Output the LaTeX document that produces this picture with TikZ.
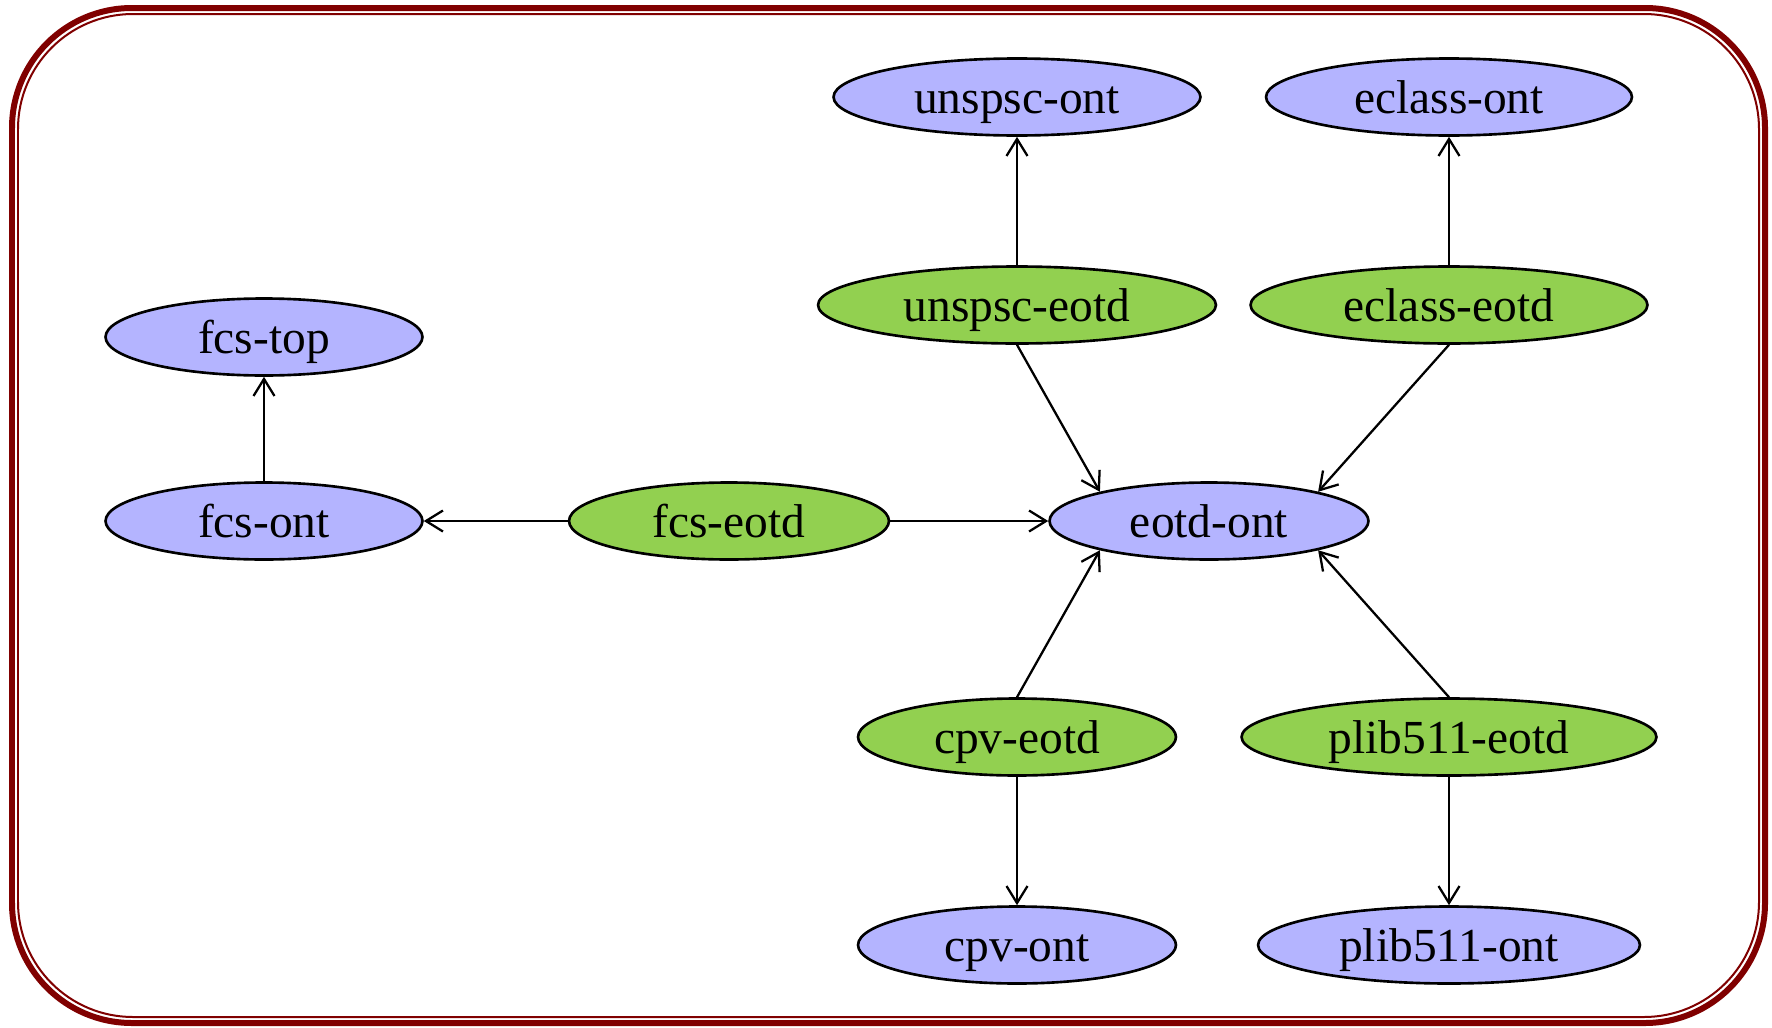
\documentclass[tikz,border=0pt]{standalone}
\usepackage{fontspec}
\setmainfont{Liberation Serif}
\usetikzlibrary{arrows.meta,shapes.geometric}
\definecolor{ontblue}{RGB}{180,180,255}
\definecolor{eotdgreen}{RGB}{146,208,80}
\definecolor{framered}{RGB}{128,0,0}

\begin{document}
\begin{tikzpicture}[x=0.02cm,y=-0.02cm,
		ont/.style={ellipse,draw,line width=1.5pt,fill=ontblue,inner sep=0pt,
			minimum height=1.54cm,text height=0.7cm,text depth=0.04cm},
		eotd/.style={ont,fill=eotdgreen},
		link/.style={line width=1.3pt,-{Straight Barb[length=0.34cm,width=0.42cm]}}]
	\fontsize{27}{32}\selectfont
	\useasboundingbox (0,0) rectangle (1772,1028);
	% frame
	\draw[framered,line width=0.12cm,rounded corners=2.4cm] (12,8) rectangle (1765,1023);
	\draw[framered,line width=0.04cm,rounded corners=2.3cm] (18,14) rectangle (1759,1017);

	\node[ont,minimum width=7.34cm] (unspsc-ont) at (1017,97) {unspsc-ont};
	\node[ont,minimum width=7.32cm] (eclass-ont) at (1449,97) {eclass-ont};
	\node[eotd,minimum width=7.96cm] (unspsc-eotd) at (1017,305) {unspsc-eotd};
	\node[eotd,minimum width=7.94cm] (eclass-eotd) at (1449,305) {eclass-eotd};
	\node[ont,minimum width=6.34cm] (fcs-top) at (264,337) {fcs-top};
	\node[ont,minimum width=6.34cm] (fcs-ont) at (264,521) {fcs-ont};
	\node[eotd,minimum width=6.40cm] (fcs-eotd) at (729,521) {fcs-eotd};
	\node[ont,minimum width=6.38cm] (eotd-ont) at (1209,521) {eotd-ont};
	\node[eotd,minimum width=6.36cm] (cpv-eotd) at (1017,737) {cpv-eotd};
	\node[eotd,minimum width=8.30cm] (plib511-eotd) at (1449,737) {plib511-eotd};
	\node[ont,minimum width=6.36cm] (cpv-ont) at (1017,945) {cpv-ont};
	\node[ont,minimum width=7.64cm] (plib511-ont) at (1449,945) {plib511-ont};

	% imports
	\draw[link] (unspsc-eotd.north) -- (unspsc-ont.south);
	\draw[link] (eclass-eotd.north) -- (eclass-ont.south);
	\draw[link] (fcs-ont.north) -- (fcs-top.south);
	\draw[link] (fcs-eotd.west) -- (fcs-ont.east);
	\draw[link] (fcs-eotd.east) -- (eotd-ont.west);
	\draw[link] (cpv-eotd.south) -- (cpv-ont.north);
	\draw[link] (plib511-eotd.south) -- (plib511-ont.north);
	\draw[link] (unspsc-eotd.south) -- (eotd-ont.165);
	\draw[link] (eclass-eotd.south) -- (eotd-ont.15);
	\draw[link] (cpv-eotd.north) -- (eotd-ont.195);
	\draw[link] (plib511-eotd.north) -- (eotd-ont.345);
\end{tikzpicture}
\end{document}
